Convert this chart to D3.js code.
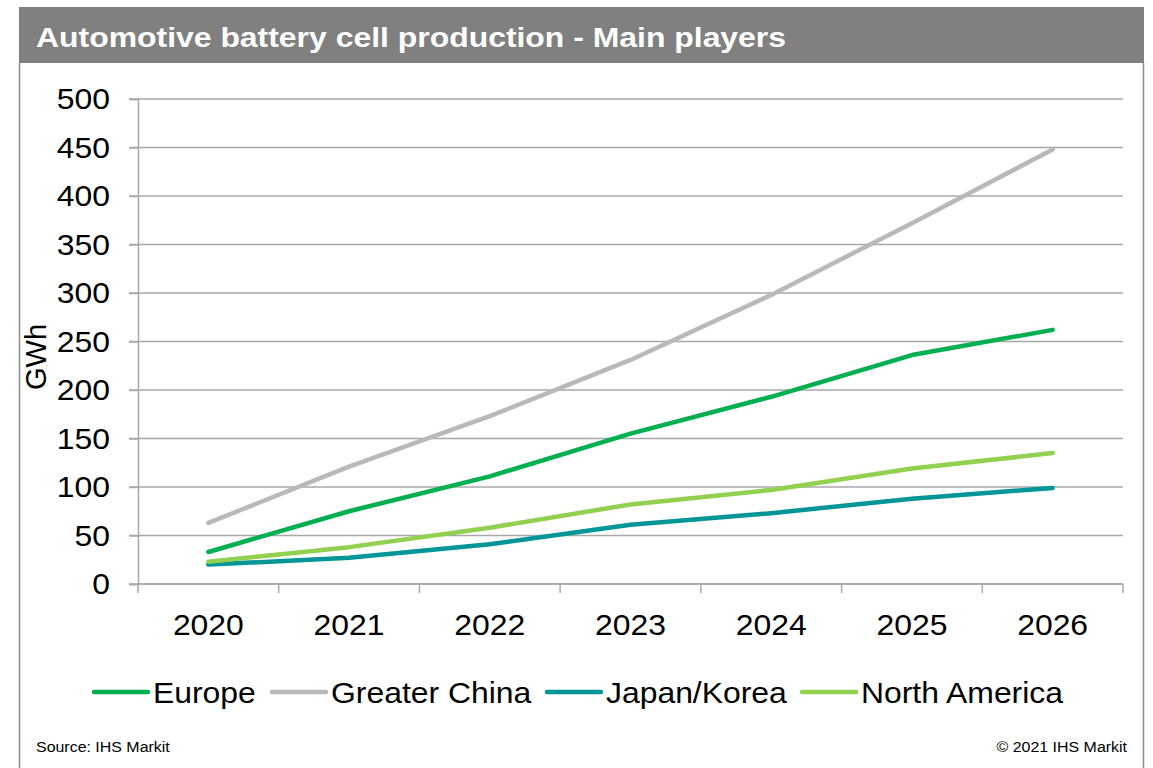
<!DOCTYPE html>
<html>
<head>
<meta charset="utf-8">
<script src="https://cdn.jsdelivr.net/npm/d3@7"></script>
<style>
  html, body { margin: 0; padding: 0; background: #ffffff; }
  svg { display: block; font-family: "Liberation Sans", Arial, sans-serif; }
</style>
</head>
<body>
<svg id="chart" width="1153" height="768"></svg>
<script>
// Automotive battery cell production by region, GWh
const years = ["2020", "2021", "2022", "2023", "2024", "2025", "2026"];
const europe = [33, 75, 111, 155, 193, 236, 262];
const greaterChina = [63, 121, 173, 231, 298, 372, 448];
const japanKorea = [20, 27, 41, 61, 73, 88, 99];
const northAmerica = [23, 38, 58, 82, 97, 119, 135];
const yTicks = [0, 50, 100, 150, 200, 250, 300, 350, 400, 450, 500];
const seriesNames = ["Europe", "Greater China", "Japan/Korea", "North America"];
const seriesColors = ["#00b050", "#b9b9b9", "#009597", "#92d050"];

const series = [europe, greaterChina, japanKorea, northAmerica].map((values, i) => ({
  name: seriesNames[i], color: seriesColors[i], values
}));

const svg = d3.select("#chart");
const WIDE = 1.1; // text is set slightly wide

// place a text at (px, py) with horizontal widening around its anchor
function wideText(parent, px, py, str, opts) {
  const t = parent.append("text")
    .attr("transform", `translate(${px},${py}) scale(${opts.sx || WIDE},1)`)
    .attr("font-size", opts.size)
    .attr("fill", opts.fill || "#000")
    .attr("text-anchor", opts.anchor || "start")
    .text(str);
  if (opts.bold) t.attr("font-weight", "bold");
  return t;
}

// Frame and title bar
svg.append("rect").attr("x", 19).attr("y", 7).attr("width", 1125).attr("height", 56).attr("fill", "#7f807f");
svg.append("line").attr("x1", 19.5).attr("x2", 19.5).attr("y1", 63).attr("y2", 768).attr("stroke", "#8c8c8c").attr("stroke-width", 1.5);
svg.append("line").attr("x1", 1143.5).attr("x2", 1143.5).attr("y1", 63).attr("y2", 768).attr("stroke", "#8c8c8c").attr("stroke-width", 1.5);
wideText(svg, 36, 47, "Automotive battery cell production - Main players",
  { size: 28, fill: "#ffffff", bold: true, sx: 1.14 });

// Scales
const x = d3.scaleBand().domain(years).range([138, 1123]);
const y = d3.scaleLinear().domain([0, 500]).range([584, 99]);

// Horizontal gridlines
svg.append("g").selectAll("line").data(yTicks).join("line")
  .attr("x1", 129).attr("x2", 1123)
  .attr("y1", d => y(d)).attr("y2", d => y(d))
  .attr("stroke", "#a8a8a8").attr("stroke-width", 1.5);

// Y axis
const yAxis = svg.append("g").attr("transform", "translate(138,0)")
  .call(d3.axisLeft(y).tickValues(yTicks).tickSize(9).tickFormat(""));
yAxis.select(".domain").attr("stroke", "#a8a8a8").attr("stroke-width", 1.5);
yAxis.selectAll(".tick line").attr("stroke", "#a8a8a8").attr("stroke-width", 1.5);
const yLabels = svg.append("g");
yTicks.forEach(v => wideText(yLabels, 110, y(v) + 10, String(v), { size: 29, anchor: "end" }));

// X axis with ticks between categories
const xAxis = svg.append("g").attr("transform", "translate(0,584)");
xAxis.append("line").attr("x1", 138).attr("x2", 1123).attr("stroke", "#a8a8a8").attr("stroke-width", 1.5);
const boundaries = years.map(d => x(d)).concat([x(years[years.length - 1]) + x.bandwidth()]);
xAxis.selectAll("line.tk").data(boundaries).join("line").attr("class", "tk")
  .attr("x1", d => d).attr("x2", d => d).attr("y1", 0).attr("y2", 9)
  .attr("stroke", "#a8a8a8").attr("stroke-width", 1.5);
years.forEach(d => wideText(xAxis, x(d) + x.bandwidth() / 2, 51, d, { size: 29, anchor: "middle" }));

// Axis title
svg.append("text").attr("transform", "translate(46,357) rotate(-90)")
  .attr("text-anchor", "middle").attr("font-size", 29).attr("fill", "#000").text("GWh");

// Series lines
const line = d3.line()
  .x((d, i) => x(years[i]) + x.bandwidth() / 2)
  .y(d => y(d));
svg.append("g").selectAll("path").data(series).join("path")
  .attr("d", d => line(d.values))
  .attr("fill", "none").attr("stroke", d => d.color)
  .attr("stroke-width", 4.5).attr("stroke-linecap", "round").attr("stroke-linejoin", "round");

// Legend
const legendX = [94, 272, 547, 802];
const legend = svg.append("g").selectAll("g").data(series).join("g")
  .attr("transform", (d, i) => `translate(${legendX[i]},692)`);
legend.append("line").attr("x1", 0).attr("x2", 54)
  .attr("stroke", d => d.color).attr("stroke-width", 4.5).attr("stroke-linecap", "round");
legend.each(function (d) { wideText(d3.select(this), 59, 11, d.name, { size: 29 }); });

// Footer
wideText(svg, 36, 752, "Source: IHS Markit", { size: 14.5 });
wideText(svg, 1127, 752, "© 2021 IHS Markit", { size: 14.5, anchor: "end" });
</script>
</body>
</html>
